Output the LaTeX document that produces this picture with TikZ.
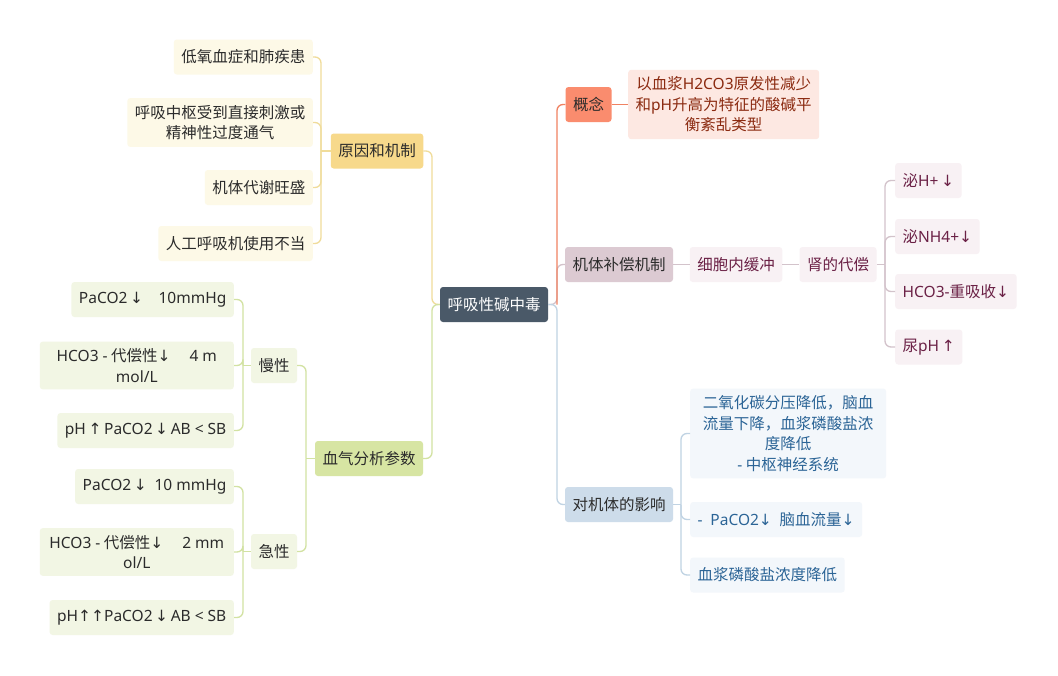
\documentclass[tikz,border=0pt]{standalone}
\usepackage{fontspec}
\setmainfont{Noto Sans CJK SC}
\newfontfamily\latfont{Noto Sans}
\newfontfamily\arrfont{DejaVu Sans}
\newcommand\mylat[1]{{\latfont #1}}
\newcommand\myda{{\arrfont ↓}}
\newcommand\myua{{\arrfont ↑}}
\definecolor{rootc}{HTML}{4A5968}
\definecolor{yelF}{HTML}{F7D98B}
\definecolor{yelL}{HTML}{FDF9E7}
\definecolor{yelE}{HTML}{F0DC9A}
\definecolor{grnF}{HTML}{D7E5A3}
\definecolor{grnL}{HTML}{F2F6E4}
\definecolor{grnE}{HTML}{D2E2A2}
\definecolor{orgF}{HTML}{FA8C6E}
\definecolor{orgL}{HTML}{FDE8E2}
\definecolor{orgE}{HTML}{F08262}
\definecolor{orgT}{HTML}{8B2A10}
\definecolor{mauF}{HTML}{DCCAD2}
\definecolor{mauL}{HTML}{F8F1F4}
\definecolor{mauE}{HTML}{D3C3CB}
\definecolor{mauT}{HTML}{6B2146}
\definecolor{bluF}{HTML}{CDDCEA}
\definecolor{bluL}{HTML}{F3F7FB}
\definecolor{bluE}{HTML}{C0D3E3}
\definecolor{bluT}{HTML}{2B6496}
\definecolor{txt}{HTML}{2B2B2B}
\tikzset{
  box/.style={rounded corners=3pt, inner xsep=7.5pt, inner ysep=7pt, minimum height=35pt,
    align=center, font=\fontsize{15.5}{20.5}\selectfont, text=txt},
  rootbox/.style={box, fill=rootc, text=white},
  ybig/.style={box, fill=yelF},
  ysm/.style={box, fill=yelL},
  gbig/.style={box, fill=grnF},
  gsm/.style={box, fill=grnL},
  obig/.style={box, fill=orgF},
  osm/.style={box, fill=orgL, text=orgT},
  mbig/.style={box, fill=mauF},
  msm/.style={box, fill=mauL, text=mauT},
  bbig/.style={box, fill=bluF},
  bsm/.style={box, fill=bluL, text=bluT},
  edge/.style={line width=1.3pt, rounded corners=6pt},
}
\begin{document}
\begin{tikzpicture}[x=1pt,y=-1pt]
\useasboundingbox (0,0) rectangle (1058,675);
\fill[white] (0,0) rectangle (1058,675);

% nodes
\node[rootbox] (root) at (494,304.5) {呼吸性碱中毒};

\node[ybig] (cause) at (377,151) {原因和机制};
\node[ysm, anchor=east] (c1) at (313,57) {低氧血症和肺疾患};
\node[ysm, anchor=east] (c2) at (313,122.5) {呼吸中枢受到直接刺激或\\精神性过度通气};
\node[ysm, anchor=east] (c3) at (313,187.5) {机体代谢旺盛};
\node[ysm, anchor=east] (c4) at (313,243.5) {人工呼吸机使用不当};

\node[gbig] (blood) at (369,458.5) {血气分析参数};
\node[gsm] (chr) at (274,365.5) {慢性};
\node[gsm] (acu) at (274,551.5) {急性};
\node[gsm, anchor=east] (h1) at (234,299.5) {\mylat{PaCO2}\,\myda\quad\mylat{10mmHg}};
\node[gsm, anchor=east, minimum width=194pt] (h2) at (234,365.5) {\mylat{HCO3 -} 代偿性\myda\quad\ \mylat{4 m}\\\mylat{mol/L}};
\node[gsm, anchor=east] (h3) at (234,430.5) {\mylat{pH}\,\myua\,\mylat{PaCO2}\,\myda\,\mylat{AB < SB}};
\node[gsm, anchor=east] (a1) at (234,486.5) {\mylat{PaCO2}\,\myda\enspace\mylat{10 mmHg}};
\node[gsm, anchor=east, minimum width=194pt] (a2) at (234,552) {\mylat{HCO3 -} 代偿性\myda\quad\ \mylat{2 mm}\\\mylat{ol/L}};
\node[gsm, anchor=east] (a3) at (234,617.5) {\mylat{pH}\myua\myua\mylat{PaCO2}\,\myda\,\mylat{AB < SB}};

\node[obig] (con) at (588.5,104.5) {概念};
\node[osm, anchor=west] (cond) at (628,104.5) {以血浆\mylat{H2CO3}原发性减少\\和\mylat{pH}升高为特征的酸碱平\\衡紊乱类型};

\node[mbig] (comp) at (619,264.5) {机体补偿机制};
\node[msm] (cell) at (736,264.5) {细胞内缓冲};
\node[msm] (kid) at (838,264.5) {肾的代偿};
\node[msm, anchor=west] (k1) at (895,180.5) {泌\mylat{H+}\,\myda};
\node[msm, anchor=west] (k2) at (895,236.5) {泌\mylat{NH4+}\myda};
\node[msm, anchor=west] (k3) at (895,291.5) {\mylat{HCO3-}重吸收\myda};
\node[msm, anchor=west] (k4) at (895,347) {尿\mylat{pH}\,\myua};

\node[bbig] (eff) at (619,504.5) {对机体的影响};
\node[bsm, anchor=west, minimum width=196pt] (e1) at (690,433.5) {二氧化碳分压降低，脑血\\流量下降，血浆磷酸盐浓\\度降低\\\mylat{-} 中枢神经系统};
\node[bsm, anchor=west] (e2) at (690,519.5) {\mylat{-}\enspace\mylat{PaCO2}\myda\enspace 脑血流量\myda};
\node[bsm, anchor=west] (e3) at (690,575) {血浆磷酸盐浓度降低};

% connectors
\coordinate (rl) at (432,304.5);
\coordinate (rr) at (557,304.5);
\draw[edge, yelE] (root.west) -- (rl) |- (cause.east);
\draw[edge, grnE] (root.west) -- (rl) |- (blood.east);
\draw[edge, mauE] (root.east) -- (rr) |- (comp.west);
\draw[edge, bluE] (root.east) -- (rr) |- (eff.west);
\draw[edge, orgE] (rr) |- (con.west);

\coordinate (cb) at (321,151);
\draw[edge, yelE] (cause.west) -- (cb);
\foreach \n in {c1,c2,c3,c4} \draw[edge, yelE] (cb) |- (\n.east);

\coordinate (bb) at (306,458.5);
\draw[edge, grnE] (blood.west) -- (bb);
\foreach \n in {chr,acu} \draw[edge, grnE] (bb) |- (\n.east);

\coordinate (chb) at (243,365.5);
\draw[edge, grnE] (chr.west) -- (chb);
\foreach \n in {h1,h2,h3} \draw[edge, grnE] (chb) |- (\n.east);

\coordinate (acb) at (243,551.5);
\draw[edge, grnE] (acu.west) -- (acb);
\foreach \n in {a1,a2,a3} \draw[edge, grnE] (acb) |- (\n.east);

\draw[edge, orgE] (con.east) -- (cond.west);
\draw[edge, mauE] (comp.east) -- (cell.west);
\draw[edge, mauE] (cell.east) -- (kid.west);

\coordinate (kb) at (885,264.5);
\draw[edge, mauE] (kid.east) -- (kb);
\foreach \n in {k1,k2,k3,k4} \draw[edge, mauE] (kb) |- (\n.west);

\coordinate (eb) at (681,504.5);
\draw[edge, bluE] (eff.east) -- (eb);
\foreach \n in {e1,e2,e3} \draw[edge, bluE] (eb) |- (\n.west);
\end{tikzpicture}
\end{document}
